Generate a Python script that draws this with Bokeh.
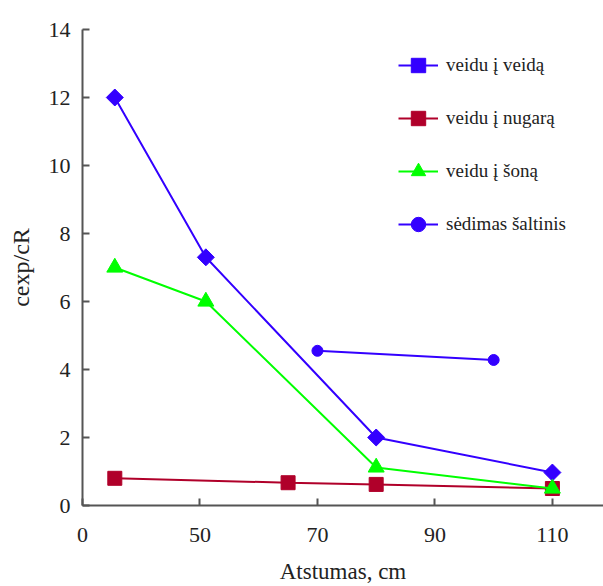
import math
from bokeh.plotting import figure
from bokeh.models import FixedTicker, Range1d, Legend, LegendItem
from bokeh.embed import file_html
from bokeh.resources import INLINE

# Data
x_face = [35.5, 51, 80, 110]
y_face = [12.0, 7.3, 2.0, 0.97]
x_back = [35.5, 65, 80, 110]
y_back = [0.8, 0.67, 0.62, 0.5]
x_side = [35.5, 51, 80, 110]
y_side = [7.0, 6.0, 1.12, 0.5]
x_seat = [70, 100]
y_seat = [4.55, 4.28]
x_ticks = [30, 50, 70, 90, 110]
x_tick_labels = ["0", "50", "70", "90", "110"]
y_ticks = [0, 2, 4, 6, 8, 10, 12, 14]
labels = ["veidu į veidą", "veidu į nugarą", "veidu į šoną", "sėdimas šaltinis"]

FONT = "Liberation Serif"
BLUE = "#3300ff"
RED = "#b0002a"
GREEN = "#00ff00"

p = figure(width=603, height=586, output_backend="svg", toolbar_location=None,
           x_range=Range1d(30, 118.7), y_range=Range1d(0, 14))
p.min_border_left = 82
p.min_border_right = 0
p.min_border_top = 29
p.min_border_bottom = 81
p.outline_line_color = None
p.xgrid.visible = False
p.ygrid.visible = False

for ax in (p.xaxis[0], p.yaxis[0]):
    ax.axis_line_color = "#555555"
    ax.axis_line_width = 2
    ax.major_tick_line_color = "#555555"
    ax.major_tick_line_width = 2
    ax.major_tick_in = 7
    ax.major_tick_out = 0
    ax.minor_tick_line_color = None
    ax.major_label_text_font = FONT
    ax.major_label_text_font_size = "22px"
    ax.major_label_text_color = "#222222"
    ax.axis_label_text_font = FONT
    ax.axis_label_text_font_style = "normal"
    ax.axis_label_text_color = "#222222"

p.xaxis.ticker = FixedTicker(ticks=x_ticks)
p.xaxis.major_label_overrides = {t: l for t, l in zip(x_ticks, x_tick_labels)}
p.xaxis.axis_label = "Atstumas, cm"
p.xaxis.axis_label_text_font_size = "23px"
p.xaxis.major_label_standoff = 22
p.xaxis.axis_label_standoff = 14

p.yaxis.ticker = FixedTicker(ticks=y_ticks)
p.yaxis.axis_label = "cexp/cR"
p.yaxis.axis_label_text_font_size = "24px"
p.yaxis.major_label_standoff = 12
p.yaxis.axis_label_standoff = 12

l1 = p.line(x_face, y_face, line_color=BLUE, line_width=2)
m1 = p.scatter(x_face, y_face, marker="square", angle=math.pi / 4, size=12,
               fill_color=BLUE, line_color=BLUE)
l2 = p.line(x_back, y_back, line_color=RED, line_width=2)
m2 = p.scatter(x_back, y_back, marker="square", size=14, fill_color=RED, line_color=RED)
l3 = p.line(x_side, y_side, line_color=GREEN, line_width=2)
m3 = p.scatter(x_side, y_side, marker="triangle", size=16, fill_color=GREEN, line_color=GREEN)
l4 = p.line(x_seat, y_seat, line_color=BLUE, line_width=2)
m4 = p.scatter(x_seat, y_seat, marker="circle", size=11, fill_color=BLUE, line_color=BLUE)

legend = Legend(items=[
    LegendItem(label=labels[0], renderers=[l1, m1]),
    LegendItem(label=labels[1], renderers=[l2, m2]),
    LegendItem(label=labels[2], renderers=[l3, m3]),
    LegendItem(label=labels[3], renderers=[l4, m4]),
], location=(316, 263))
legend.padding = 0
legend.margin = 0
legend.spacing = 17
legend.glyph_width = 40
legend.glyph_height = 36
legend.label_height = 36
legend.label_standoff = 8
legend.label_text_font = FONT
legend.label_text_font_size = "19px"
legend.label_text_color = "#222222"
legend.border_line_color = None
legend.background_fill_alpha = 0
p.add_layout(legend, "center")

open("out.html", "w").write(file_html(p, INLINE))
